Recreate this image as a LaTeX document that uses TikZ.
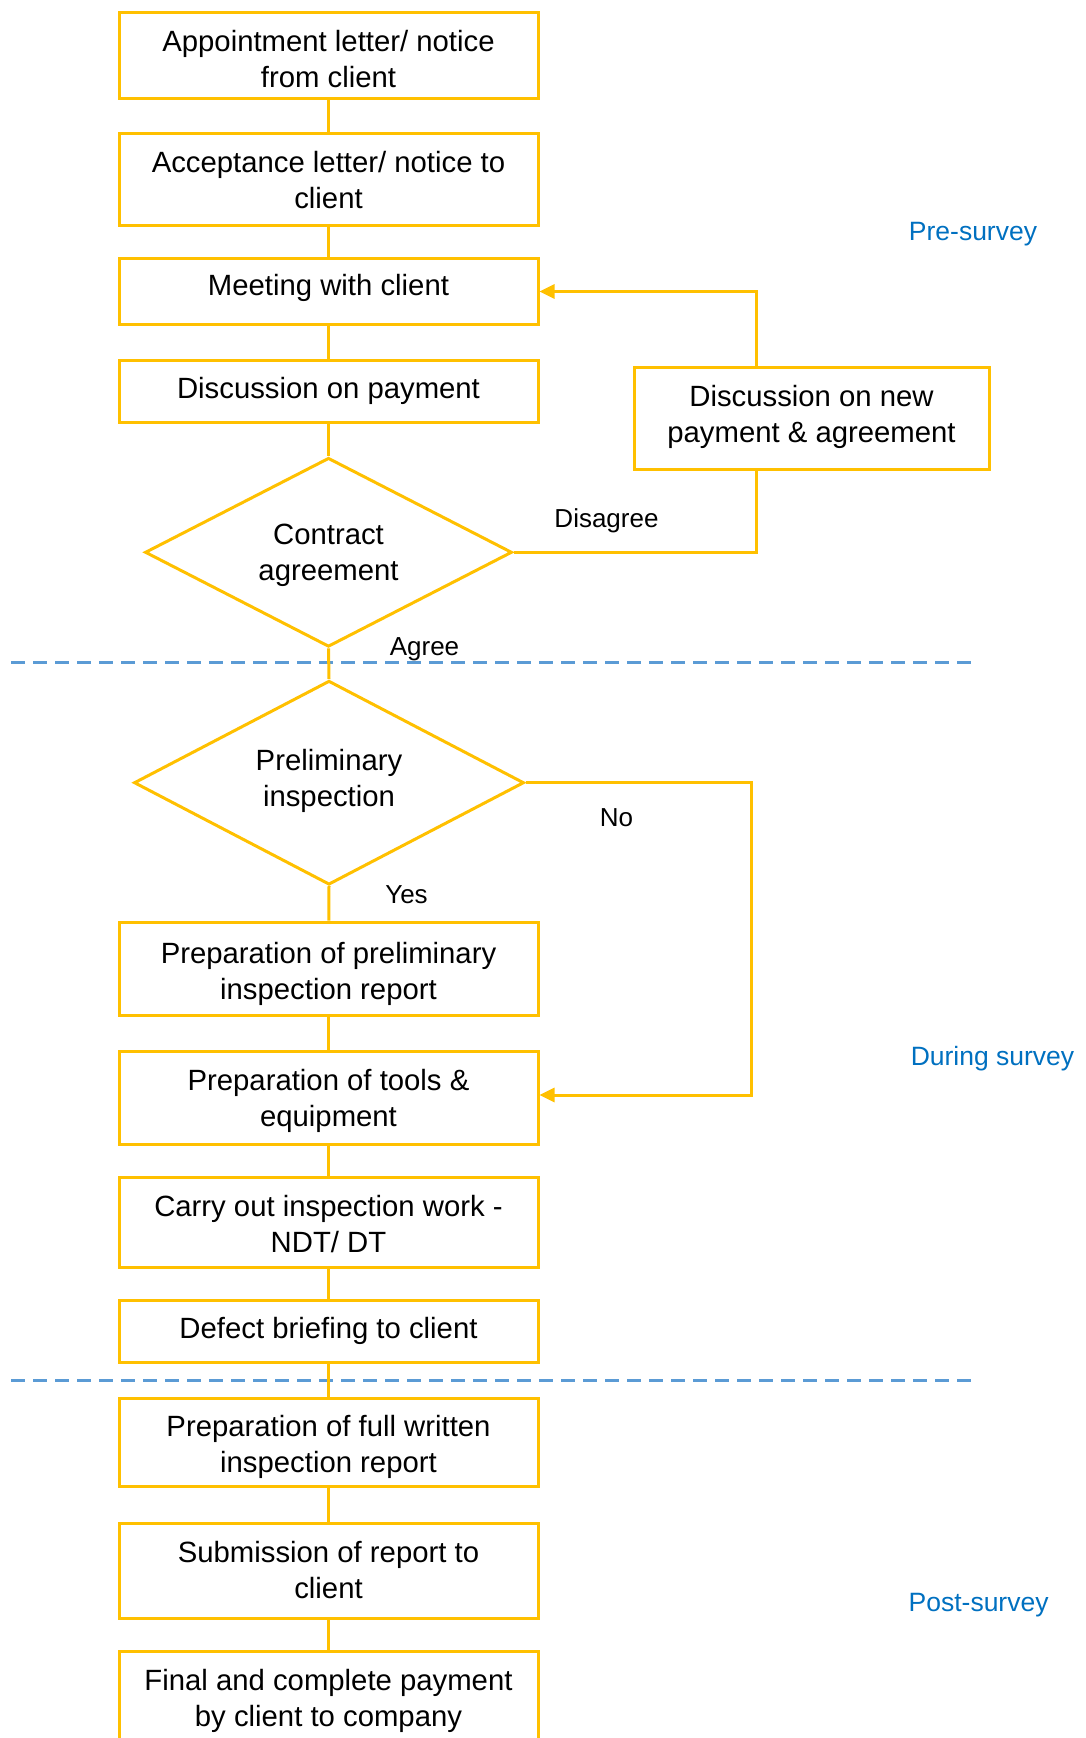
\documentclass[tikz,border=0pt]{standalone}
\usepackage{fontspec}
\setmainfont{Liberation Sans}
\usetikzlibrary{shapes.geometric,arrows.meta}
\definecolor{flowyellow}{HTML}{FFC000}
\definecolor{phaseblue}{HTML}{0070C0}
\definecolor{divblue}{HTML}{5B9BD5}
% invisible struts that fix the top of the first line and the bottom of the last line
\newcommand\topgap[1]{\rule{0pt}{#1pt}}
\newcommand\botgap[1]{\rule[-#1pt]{0pt}{#1pt}}
\begin{document}
\begin{tikzpicture}[x=1pt,y=-1pt,
  stepbox/.style={draw=flowyellow,line width=3pt,fill=white,minimum width=419pt,
    inner sep=0pt,align=center,font=\fontsize{29.3}{36}\selectfont},
  decision/.style={diamond,draw=flowyellow,line width=3pt,fill=white,inner sep=0pt,
    aspect=2,align=center,font=\fontsize{29.3}{36}\selectfont},
  link/.style={draw=flowyellow,line width=3pt},
  backarrow/.style={link,-{Triangle[length=15pt,width=14pt]}},
  edgelabel/.style={font=\fontsize{26}{30}\selectfont,inner sep=0pt,anchor=base},
  phase/.style={font=\fontsize{26.5}{30}\selectfont,text=phaseblue,inner sep=0pt,anchor=base},
  divider/.style={draw=divblue,line width=3pt,dash pattern=on 14pt off 8pt}]
\useasboundingbox (0,0) rectangle (1085,1738);
\clip (0,0) rectangle (1085,1738);

% phase dividers
\draw[divider] (11,662) -- (975,662);
\draw[divider] (11,1380) -- (975,1380);

% main column of steps
\node[stepbox,minimum height=86pt] (b1) at (328.5,55.5)
  {\topgap{36}Appointment letter/ notice\\from client\botgap{9}};
\node[stepbox,minimum height=92pt] (b2) at (328.5,179)
  {\topgap{31.6}Acceptance letter/ notice to\\client\botgap{9}};
\node[stepbox,minimum height=66pt] (b3) at (328.5,291.2)
  {\topgap{21.7}Meeting with client\botgap{12.7}};
\node[stepbox,minimum height=62pt] (b4) at (328.5,391.7)
  {\topgap{24}Discussion on payment\botgap{10.5}};
\node[decision,minimum width=367pt,minimum height=189pt] (d1) at (328.5,552.3)
  {\topgap{28.4}Contract\\agreement\botgap{9}};
\node[decision,minimum width=390pt,minimum height=204pt] (d2) at (329,782.7)
  {\topgap{21.6}Preliminary\\inspection\botgap{9.2}};
\node[stepbox,minimum height=93pt] (b5) at (328.5,968.5)
  {\topgap{34.4}Preparation of preliminary\\inspection report\botgap{9}};
\node[stepbox,minimum height=93pt] (b6) at (328.5,1097.5)
  {\topgap{30}Preparation of tools \&\\equipment\botgap{9}};
\node[stepbox,minimum height=90pt] (b7) at (328.5,1222)
  {\topgap{33.8}Carry out inspection work -\\NDT/ DT\botgap{9}};
\node[stepbox,minimum height=62pt] (b8) at (328.5,1331.2)
  {\topgap{24}Defect briefing to client\botgap{10}};
\node[stepbox,minimum height=88pt] (b9) at (328.5,1442.2)
  {\topgap{33.4}Preparation of full written\\inspection report\botgap{9}};
\node[stepbox,minimum height=95pt] (b10) at (328.5,1570.5)
  {\topgap{29.4}Submission of report to\\client\botgap{9}};
\node[stepbox,minimum height=94pt] (b11) at (328.5,1698)
  {\topgap{30}Final and complete payment\\by client to company\botgap{9}};

% renegotiation box
\node[stepbox,minimum width=355pt,minimum height=102pt] (nw) at (811.5,418)
  {\topgap{21.6}Discussion on new\\payment \& agreement\botgap{9.4}};

% straight links down the column
\draw[link] (b1) -- (b2);
\draw[link] (b2) -- (b3);
\draw[link] (b3) -- (b4);
\draw[link] (b4) -- (d1);
\draw[link] (d1.south) -- (d2.north);
\draw[link] (d2.south) -- (b5);
\draw[link] (b5) -- (b6);
\draw[link] (b6) -- (b7);
\draw[link] (b7) -- (b8);
\draw[link] (b8) -- (b9);
\draw[link] (b9) -- (b10);
\draw[link] (b10) -- (b11);

% disagree loop
\coordinate (dis) at (756,552.3);
\coordinate (ret) at (756,291.5);
\draw[link] (d1.east) -- (dis) -- (dis |- nw.south);
\draw[backarrow] (ret |- nw.north) -- (ret) -- (b3.east |- ret);

% skip loop when no preliminary inspection
\coordinate (nocorner) at (751,782.7);
\coordinate (nobottom) at (751,1095);
\draw[backarrow] (d2.east) -- (nocorner) -- (nobottom) -- (b6.east |- nobottom);

% branch labels
\node[edgelabel] (lagree) at (424.5,655) {Agree};
\node[edgelabel] (ldis) at (606.5,527.3) {Disagree};
\node[edgelabel] (lno) at (616.5,826.7) {No};
\node[edgelabel] (lyes) at (406.5,903.3) {Yes};

% phase names
\node[phase] (pre) at (973,240.5) {Pre-survey};
\node[phase] (during) at (992.5,1065) {During survey};
\node[phase] (post) at (978.6,1611.5) {Post-survey};
\end{tikzpicture}
\end{document}
